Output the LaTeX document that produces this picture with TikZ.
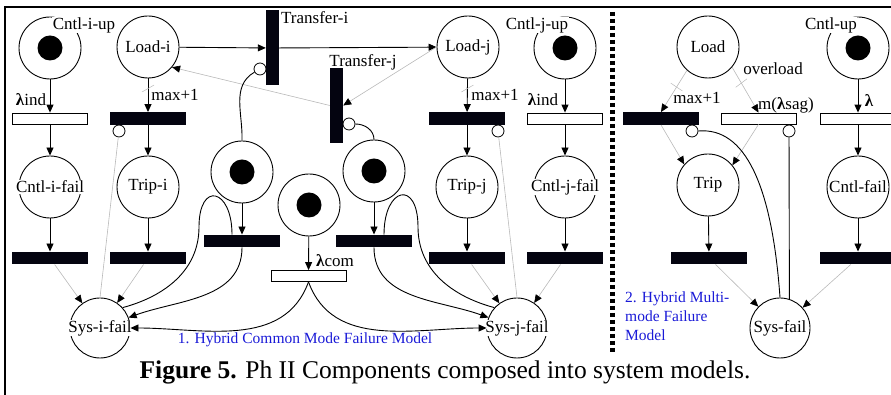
\documentclass[tikz,border=0pt]{standalone}
\usepackage{fontspec}
\setmainfont{Liberation Serif}
\usetikzlibrary{arrows.meta}
\definecolor{BarBlack}{RGB}{4,4,16}
\definecolor{ArcGray}{RGB}{185,185,185}
\definecolor{NoteBlue}{RGB}{25,25,215}
\newcommand\pnfont{\fontsize{17}{20}\selectfont}
\newcommand\notefont{\fontsize{15.5}{19}\selectfont}
\newcommand\capfont{\fontsize{25.5}{30}\selectfont}
\newcommand\lam{{\bfseries λ}}

\begin{document}
\begin{tikzpicture}[x=1pt, y=1pt,
    place/.style={circle, draw, line width=0.9pt, minimum size=62pt, inner sep=0pt},
    marked/.style={place, path picture={\fill (path picture bounding box.center) circle (12.5pt);}},
    ptxt/.style={fill=white, inner sep=0.5pt, font=\pnfont},
    lbl/.style={inner sep=1pt, font=\pnfont},
    hbar/.style={fill=BarBlack, minimum width=76pt, minimum height=12.5pt, inner sep=0pt},
    wbar/.style={draw, fill=white, line width=0.8pt, minimum width=75pt, minimum height=11pt, inner sep=0pt},
    vbar/.style={fill=BarBlack, minimum width=13pt, minimum height=75pt, inner sep=0pt},
    inh/.style={circle, draw, fill=white, line width=0.8pt, minimum size=12pt, inner sep=0pt},
    arc/.style={-{Triangle[length=8pt, width=7pt]}, line width=0.9pt},
    garc/.style={-{Triangle[length=8pt, width=7pt, color=black]}, draw=ArcGray, line width=0.6pt},
    gline/.style={draw=ArcGray, line width=0.6pt},
    curve/.style={line width=0.9pt},
    wtick/.style={draw=ArcGray, line width=0.5pt, minimum width=14pt, minimum height=0pt, inner sep=0pt},
    note/.style={font=\notefont, text=NoteBlue, inner sep=0pt}
  ]
  \useasboundingbox (0,0) rectangle (891,395);

  % frame
  \draw[line width=1.2pt] (5,0) -- (5,388) -- (891,388);

  % ---- 1. common mode model, component i
  \node[marked] (cupi) at (50,347) {};
  \node[ptxt] (cupi-t) at (84,370) {Cntl-i-up};
  \node[place, label={[ptxt]center:Load-i}] (loadi) at (148,348) {};
  \node[wbar] (lindi) at (50,276.5) {};
  \node[lbl] (lindi-t) at (31,295) {\lam ind};
  \node[hbar] (maxi) at (148,276.5) {};
  \node[inh] (inhi) at (119,264) {};
  \node[lbl] (maxi-t) at (175,300) {max+1};
  \node[place, label={[ptxt]center:Cntl-i-fail}] (cfaili) at (50,208) {};
  \node[place, label={[ptxt]center:Trip-i}] (tripi) at (148,208) {};
  \node[hbar] (fi1) at (50,137) {};
  \node[hbar] (fi2) at (148,137) {};
  \node[place, minimum size=60pt, label={[ptxt]center:Sys-i-fail}] (sysi) at (100,67) {};

  \draw[arc] (cupi) -- (lindi);
  \draw[arc] (lindi) -- (cfaili);
  \draw[arc] (cfaili) -- (fi1);
  \draw[arc] (loadi) -- node[wtick, pos=0.3, rotate=30] (wi) {} (maxi);
  \draw[arc] (maxi) -- (tripi);
  \draw[arc] (tripi) -- (fi2);
  \draw[garc] (fi1) -- (sysi);
  \draw[garc] (fi2) -- (sysi);
  \draw[gline] (sysi.north) -- (inhi);

  % ---- component j
  \node[marked] (cupj) at (565,347) {};
  \node[ptxt] (cupj-t) at (537,370) {Cntl-j-up};
  \node[place, label={[ptxt]center:Load-j}] (loadj) at (468,348) {};
  \node[hbar] (maxj) at (467,276.5) {};
  \node[inh] (inhj) at (498,264) {};
  \node[lbl] (maxj-t) at (495,300) {max+1};
  \node[wbar] (lindj) at (565,276.5) {};
  \node[lbl] (lindj-t) at (543,295) {\lam ind};
  \node[place, label={[ptxt]center:Trip-j}] (tripj) at (467,208) {};
  \node[place, label={[ptxt]center:Cntl-j-fail}] (cfailj) at (565,208) {};
  \node[hbar] (fj1) at (467,137) {};
  \node[hbar] (fj2) at (565,137) {};
  \node[place, minimum size=60pt, label={[ptxt]center:Sys-j-fail}] (sysj) at (517,67) {};

  \draw[arc] (cupj) -- (lindj);
  \draw[arc] (lindj) -- (cfailj);
  \draw[arc] (cfailj) -- (fj2);
  \draw[arc] (loadj) -- node[wtick, pos=0.3, rotate=30] (wj) {} (maxj);
  \draw[arc] (maxj) -- (tripj);
  \draw[arc] (tripj) -- (fj1);
  \draw[garc] (fj1) -- (sysj);
  \draw[garc] (fj2) -- (sysj);
  \draw[gline] (sysj.north) -- (inhj);

  % ---- load transfer between i and j
  \node[vbar] (ti) at (272.5,347) {};
  \node[lbl, anchor=west] (ti-t) at (280,377) {Transfer-i};
  \node[inh] (inhti) at (260,326) {};
  \node[vbar] (tj) at (336.5,289.5) {};
  \node[lbl] (tj-t) at (363,333) {Transfer-j};
  \node[inh] (inhtj) at (349,271) {};

  \draw[arc] (loadi) -- (ti);
  \draw[arc] (ti) -- (loadj);
  \draw[garc] (loadj.west) -- (tj.east);
  \draw[garc] (tj.west) -- (loadi.-40);

  % ---- common mode part
  \node[marked] (pa) at (242,223) {};
  \node[marked] (pb) at (374,224) {};
  \node[marked] (pc) at (309,190) {};
  \node[hbar] (ba) at (242,154) {};
  \node[hbar] (bb) at (374,154) {};
  \node[wbar] (lcom) at (308.5,119) {};
  \node[lbl] (lcom-t) at (335,134) {\lam com};

  \draw[curve] (pa.north) to[out=88, in=-150] (inhti);
  \draw[curve] (inhtj) to[out=0, in=90] (pb.north);
  \draw[arc] (pa) -- (ba);
  \draw[arc] (pb) -- (bb);
  \draw[arc] (pc) -- (lcom);

  \draw[curve] ([xshift=-10pt]ba.north) to[out=90, in=90, looseness=3.5] (199,168)
    to[out=-90, in=15] (sysi.42);
  \draw[curve] ([xshift=10pt]bb.north) to[out=90, in=90, looseness=3.5] (418,168)
    to[out=-90, in=165] (sysj.138);
  \draw[arc] (ba.south) to[out=-90, in=20] (sysi);
  \draw[arc] (bb.south) to[out=-90, in=160] (sysj);
  \draw[arc] (lcom.south) to[out=-110, in=0] (sysi);
  \draw[arc] (lcom.south) to[out=-70, in=180] (sysj);

  \node[note] (title1) at (305,55) {1. Hybrid Common Mode Failure Model};

  % separator
  \draw[line width=5pt, dash pattern=on 4pt off 3pt] (612,383) -- (612,42);

  % ---- 2. multi-mode model
  \node[place, label={[ptxt]center:Load}] (load) at (708,348) {};
  \node[marked] (cup) at (858,347) {};
  \node[ptxt] (cup-t) at (831,370) {Cntl-up};
  \node[hbar] (mx) at (661,276.5) {};
  \node[inh] (inhm) at (692,264) {};
  \node[lbl] (mx-t) at (697,297) {max+1};
  \node[wbar] (sag) at (758.5,276.5) {};
  \node[inh] (inhs) at (789,264) {};
  \node[lbl] (sag-t) at (786,290) {m(\lam sag)};
  \node[lbl] (ovl-t) at (773,326) {overload};
  \node[wbar] (lamb) at (858,276.5) {};
  \node[lbl] (lamb-t) at (869,294) {\lam};
  \node[place, label={[ptxt]center:Trip}] (trip) at (708,210) {};
  \node[place, label={[ptxt]center:Cntl-fail}] (cfail) at (858,208) {};
  \node[hbar] (fm1) at (709,137) {};
  \node[hbar] (fm2) at (858,137) {};
  \node[place, minimum size=60pt, label={[ptxt]center:Sys-fail}] (sysf) at (780,67) {};

  \draw[garc] (load.228) -- node[wtick, pos=0.4, rotate=-34] (wm) {} (mx.north);
  \draw[garc] (load.-40) -- node[wtick, pos=0.35, rotate=37] (ws) {} (sag.north);
  \draw[garc] (mx.south) -- (trip.139);
  \draw[garc] (sag.south) -- (trip.39);
  \draw[arc] (cup) -- (lamb);
  \draw[arc] (lamb) -- (cfail);
  \draw[arc] (trip) -- (fm1);
  \draw[arc] (cfail) -- (fm2);
  \draw[garc] (fm1) -- (sysf);
  \draw[garc] (fm2) -- (sysf);
  \draw[curve] (inhm.east) .. controls (745,268) and (772,210) .. (sysf.north);
  \draw[curve] (inhs) -- (sysf.72.5);

  \node[note, anchor=north west, align=left] (title2) at (625,103)
    {2. Hybrid Multi-\\mode Failure\\Model};

  % caption
  \node[font=\capfont, inner sep=0pt] (cap) at (445,23)
    {\textbf{Figure 5.} Ph II Components composed into system models.};
\end{tikzpicture}
\end{document}
